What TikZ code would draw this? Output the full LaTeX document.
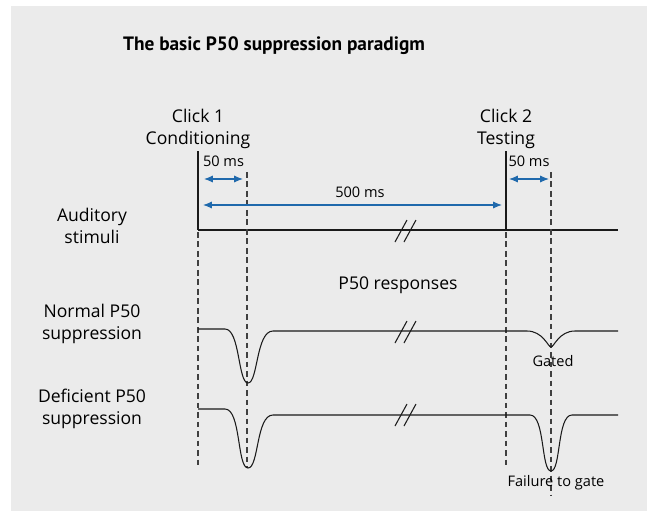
\documentclass[tikz,border=0pt]{standalone}
\usepackage{fontspec}
\setmainfont{Open Sans}
\newfontfamily\titlefont{PT Sans}
\usetikzlibrary{arrows.meta}
\definecolor{bggray}{HTML}{EBEBEB}
\definecolor{tickblue}{HTML}{1F69AC}
\definecolor{curve}{HTML}{1A1A1A}
\definecolor{guide}{HTML}{404040}

\begin{document}
\begin{tikzpicture}[x=0.02cm,y=-0.02cm,
	lbl/.style={align=center,font=\fontsize{10}{12.6}\selectfont,inner sep=0pt},
	small/.style={text=black,font=\fontsize{8.3}{10}\selectfont,inner sep=0pt},
	guideline/.style={guide,thick,dash pattern=on 3.2pt off 2.2pt},
	trace/.style={curve,semithick},
	stim/.style={curve,very thick},
	span/.style={tickblue,semithick,{Latex[length=5pt,width=4pt]}-{Latex[length=5pt,width=4pt]}},
	brk/.style={curve,semithick}]
	\useasboundingbox (0,0) rectangle (647,511);
	\fill[bggray] (11,6) rectangle (647,511);

	\node[font=\titlefont\bfseries\fontsize{11}{14}\selectfont] (title) at (274,46) {The basic P50 suppression paradigm};

	\node[lbl] (click1) at (198,129) {Click 1\\Conditioning};
	\node[lbl] (click2) at (506,129) {Click 2\\Testing};
	\node[lbl] (stimuli) at (92,226) {Auditory\\stimuli};
	\node[lbl] (normal) at (92,324) {Normal P50\\suppression};
	\node[lbl] (deficient) at (92,409) {Deficient P50\\suppression};
	\node[lbl] (resp) at (398,285) {P50 responses};

	% stimulus line and clicks
	\coordinate (c1top) at (198,151);
	\coordinate (c1) at (198,230);
	\coordinate (c2top) at (506,151);
	\coordinate (c2) at (506,230);
	\coordinate (send) at (618,230);
	\draw[stim] (c1top) -- (c1);
	\draw[stim] (c2top) -- (c2);
	\draw[trace] (c1) -- (send);

	% guides
	\coordinate (g1a) at (198,232);  \coordinate (g1b) at (198,468);
	\coordinate (g2a) at (247,172);  \coordinate (g2b) at (247,468);
	\coordinate (g3a) at (506,232);  \coordinate (g3b) at (506,468);
	\coordinate (g4a) at (551,172);  \coordinate (g4b) at (551,495);
	\draw[guideline] (g1a) -- (g1b);
	\draw[guideline] (g2a) -- (g2b);
	\draw[guideline] (g3a) -- (g3b);
	\draw[guideline] (g4a) -- (g4b);

	% intervals
	\coordinate (a1) at (204,179); \coordinate (b1) at (243,179);
	\coordinate (a2) at (203,205); \coordinate (b2) at (502,205);
	\coordinate (a3) at (509,179); \coordinate (b3) at (549,179);
	\draw[span] (a1) -- node[small,above=6.5pt] (ms1) {50 ms} (b1);
	\draw[span] (a2) -- node[small,above=4pt,pos=0.525] (ms2) {500 ms} (b2);
	\draw[span] (a3) -- node[small,above=6.5pt] (ms3) {50 ms} (b3);

	% responses
	\draw[trace] (198,329) -- (225,329) .. controls (240,329) and (238,383) .. (248,383)
		.. controls (258,383) and (256,331) .. (273,331) -- (527,331)
		.. controls (543,331) and (548,347) .. (551,347)
		.. controls (554,347) and (559,331) .. (575,331) -- (618,331);
	\draw[trace] (198,409) -- (225,409) .. controls (241,409) and (237,468) .. (248,468)
		.. controls (259,468) and (256,415) .. (273,415) -- (530,415)
		.. controls (545,415) and (541,471) .. (551,471)
		.. controls (561,471) and (557,415) .. (572,415) -- (618,415);

	\node[small] (gated) at (553,361) {Gated};
	\node[small] (fail) at (556,483) {Failure to gate};

	% breaks
	\foreach \yy in {231,332,415}{
		\draw[brk] (395,\yy+11) -- (407,\yy-11);
		\draw[brk] (404,\yy+11) -- (416,\yy-11);
	}
\end{tikzpicture}
\end{document}
